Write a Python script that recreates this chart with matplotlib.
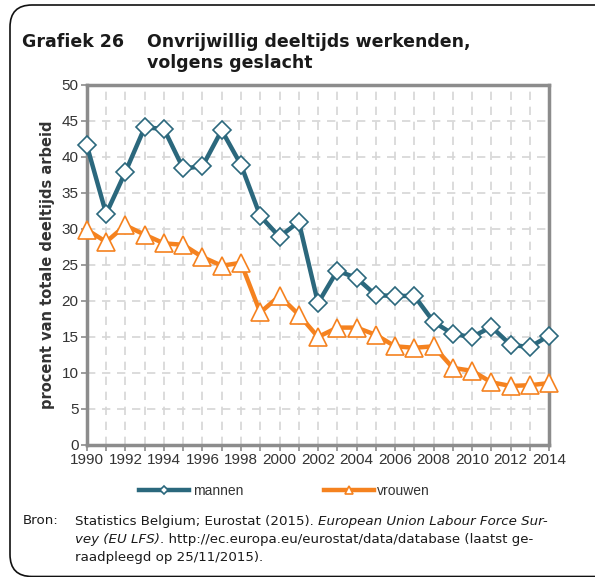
import matplotlib
matplotlib.use("Agg")
import matplotlib.pyplot as plt
from matplotlib.patches import FancyBboxPatch
from matplotlib.ticker import MultipleLocator

years = list(range(1990, 2015))
mannen = [41.6, 32.1, 37.9, 44.1, 43.9, 38.4, 38.7, 43.7, 38.9, 31.8, 28.9, 31.0,
          19.7, 24.2, 23.2, 20.8, 20.7, 20.7, 17.1, 15.4, 15.0, 16.4, 13.9, 13.6, 15.2]
vrouwen = [29.9, 28.2, 30.5, 29.2, 28.0, 27.8, 26.1, 24.9, 25.3, 18.4, 20.7, 18.1,
           15.0, 16.3, 16.3, 15.3, 13.7, 13.5, 13.7, 10.7, 10.3, 8.7, 8.2, 8.3, 8.6]
xtick_years = list(range(1990, 2015, 2))
yticks = list(range(0, 51, 5))

c_men = "#2b687d"
c_women = "#f5821f"
grid_c = "#d6d6d6"
spine_c = "#8c8c8c"

fig = plt.figure(figsize=(5.95, 5.77), dpi=100)
ax = fig.add_axes([0.146, 0.2288, 0.777, 0.624])

ax.plot(years, mannen, color=c_men, lw=3.2, marker="D", ms=9.5, mfc="white",
        mec=c_men, mew=1.2, label="mannen", zorder=3, clip_on=False)
ax.plot(years, vrouwen, color=c_women, lw=3.2, marker="^", ms=12.5, mfc="white",
        mec=c_women, mew=1.2, label="vrouwen", zorder=3, clip_on=False)

ax.set_xlim(1990, 2014)
ax.set_ylim(0, 50)
ax.set_xticks(xtick_years)
ax.set_xticklabels([str(y) for y in xtick_years])
ax.xaxis.set_minor_locator(MultipleLocator(1))
ax.set_yticks(yticks)
ax.tick_params(axis="both", which="major", labelsize=11, colors="#333333",
               length=4, width=1.2, color=spine_c, pad=2)
ax.tick_params(axis="x", which="minor", length=4, width=1.2, color=spine_c)
for lab in ax.get_xticklabels() + ax.get_yticklabels():
    lab.set_fontfamily("Liberation Sans")

ax.grid(True, which="both", axis="x", color=grid_c, ls=(0, (5, 4)), lw=1.2)
ax.grid(True, which="major", axis="y", color=grid_c, ls=(0, (5, 4)), lw=1.2)
ax.set_axisbelow(True)
for s in ax.spines.values():
    s.set_color(spine_c)
    s.set_linewidth(2.5)

ax.set_ylabel("procent van totale deeltijds arbeid", fontsize=10.5, fontweight="bold",
              color="#333333", labelpad=5)

leg = fig.legend(loc="center", bbox_to_anchor=(0.478, 0.149), ncol=2, frameon=False,
                 handlelength=3.6, columnspacing=5.8, fontsize=10, markerscale=0.45,
                 handletextpad=0.25)
for t in leg.get_texts():
    t.set_fontfamily("Liberation Sans")
    t.set_color("#333333")

# Title
tfs = 12.5
fig.text(22 / 595, 1 - 42 / 577, "Grafiek 26", fontsize=tfs, fontweight="bold",
         va="center", ha="left", color="#1a1a1a")
fig.text(147 / 595, 1 - 42 / 577, "Onvrijwillig deeltijds werkenden,", fontsize=tfs,
         fontweight="bold", va="center", ha="left", color="#1a1a1a")
fig.text(147 / 595, 1 - 63 / 577, "volgens geslacht", fontsize=tfs,
         fontweight="bold", va="center", ha="left", color="#1a1a1a")

# Source text
fs = 9.6
col = "#1a1a1a"
fig.text(23 / 595, 1 - 521 / 577, "Bron:", fontsize=fs, va="center", ha="left", color=col)
t1 = fig.text(75 / 595, 1 - 521 / 577, "Statistics Belgium; Eurostat (2015). ", fontsize=fs,
              va="center", ha="left", color=col)
fig.canvas.draw()
r = fig.canvas.get_renderer()
bb = t1.get_window_extent(r)
fig.text(bb.x1 / fig.bbox.width, 1 - 521 / 577, "European Union Labour Force Sur-",
         fontsize=fs, style="italic", va="center", ha="left", color=col)
t3 = fig.text(75 / 595, 1 - 540 / 577, "vey (EU LFS)", fontsize=fs, style="italic",
              va="center", ha="left", color=col)
fig.canvas.draw()
bb3 = t3.get_window_extent(r)
fig.text(bb3.x1 / fig.bbox.width, 1 - 540 / 577,
         ". http://ec.europa.eu/eurostat/data/database (laatst ge-",
         fontsize=fs, va="center", ha="left", color=col)
fig.text(75 / 595, 1 - 558 / 577, "raadpleegd op 25/11/2015).", fontsize=fs,
         va="center", ha="left", color=col)

# Rounded border
box = FancyBboxPatch((0.10, 0.005), 6.2, 5.715, boxstyle="round,pad=0,rounding_size=0.22",
                     transform=fig.dpi_scale_trans, fill=False, ec="#111111", lw=1.2)
fig.patches.append(box)

fig.savefig("out.png", dpi=100)
